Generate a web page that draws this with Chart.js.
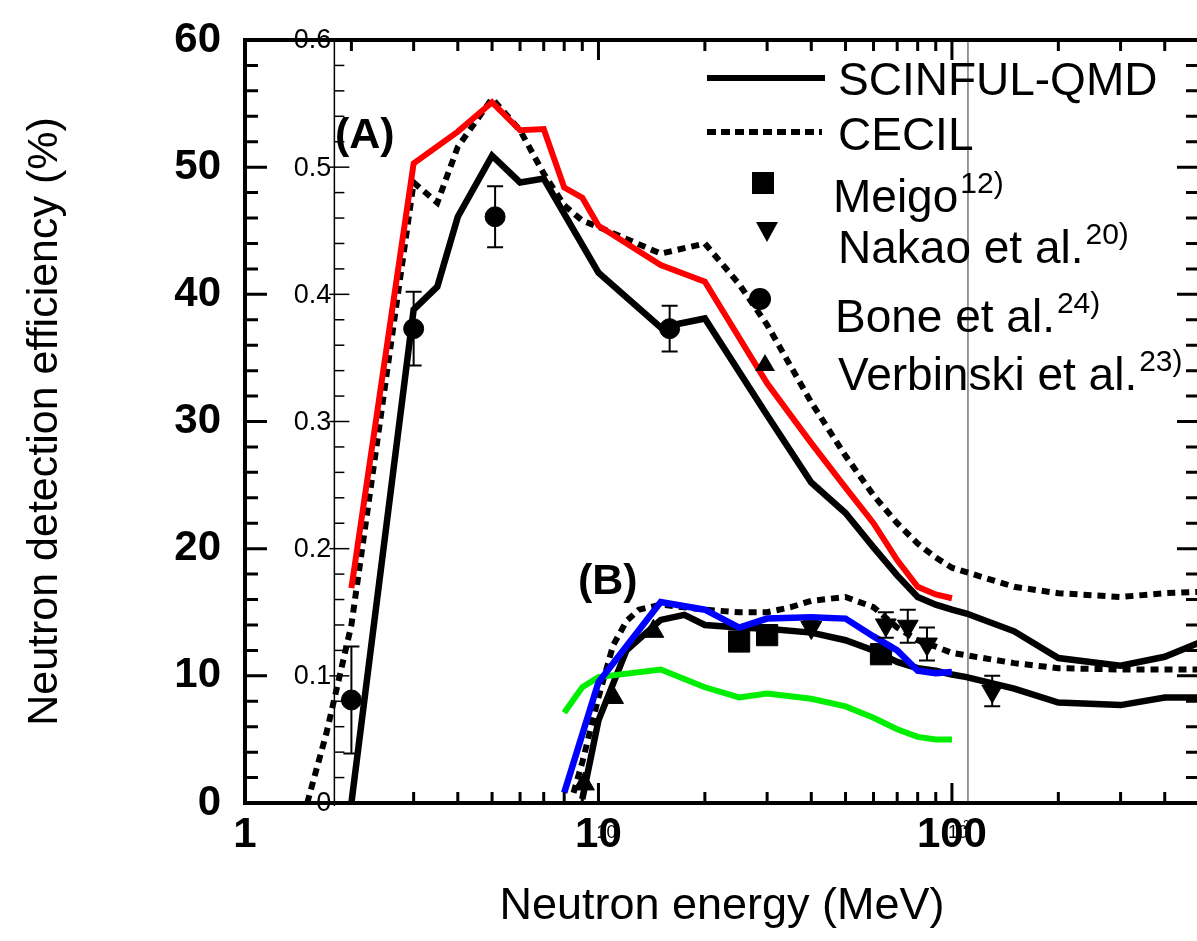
<!DOCTYPE html>
<html>
<head>
<meta charset="utf-8">
<script src="https://cdn.jsdelivr.net/npm/chart.js@4.4.1/dist/chart.umd.min.js"></script>
<style>
  html, body { margin: 0; padding: 0; background: #fff; overflow: hidden; }
  canvas { display: block; }
</style>
</head>
<body>
<canvas id="myChart" width="1215" height="941"></canvas>
<script>
const ctx = document.getElementById('myChart').getContext('2d');

// ---- data (energy in MeV, efficiency in %) ----
const scinfulA_E = [2, 3, 3.5, 4, 5, 6, 7, 10, 15, 20, 30, 40, 50, 60, 70, 80, 90, 100, 110, 150, 200, 300, 400, 500];
const scinfulA_V = [0, 38.8, 40.6, 46.1, 50.9, 48.8, 49.1, 41.7, 37.4, 38.1, 30.5, 25.2, 22.8, 20.1, 17.9, 16.2, 15.6, 15.2, 14.9, 13.5, 11.4, 10.8, 11.5, 12.6];

const cecilA_E = [1.5, 1.7, 2, 3, 3.5, 4, 5, 6, 7, 8, 9, 10, 15, 20, 25, 30, 40, 50, 60, 70, 80, 90, 100, 150, 200, 300, 400, 500];
const cecilA_V = [0, 5.5, 14, 48.8, 47.2, 51.6, 55.4, 52.9, 49.5, 47.0, 45.8, 45.3, 43.2, 44.0, 40.8, 37.6, 31.5, 27.3, 24.2, 22.0, 20.4, 19.3, 18.5, 17.0, 16.5, 16.2, 16.5, 16.6];

const scinfulB_E = [9, 10, 12, 15, 17.5, 20, 25, 30, 40, 50, 60, 70, 80, 90, 100, 110, 150, 200, 300, 400, 500];
const scinfulB_V = [0.3, 6.5, 12.0, 14.4, 14.8, 14.0, 13.8, 13.7, 13.4, 12.8, 12.0, 11.1, 10.6, 10.4, 10.1, 9.9, 9.0, 7.9, 7.7, 8.3, 8.3];

const cecilB_E = [8.5, 9, 10, 11, 12, 13, 15, 20, 25, 30, 35, 40, 50, 60, 70, 80, 90, 100, 150, 200, 300, 400, 500];
const cecilB_V = [0.8, 3.2, 8.3, 12.4, 14.3, 15.2, 15.6, 15.2, 15.0, 15.0, 15.4, 15.9, 16.2, 15.4, 13.8, 12.8, 12.3, 11.8, 11.0, 10.6, 10.5, 10.5, 10.5];

// overlaid second plot (efficiency as a fraction)
const redE = [2, 3, 4, 5, 6, 7, 8, 9, 10, 15, 20, 30, 40, 50, 60, 70, 80, 90, 100];
const redV = [0.169, 0.503, 0.528, 0.551, 0.529, 0.530, 0.484, 0.476, 0.454, 0.423, 0.410, 0.330, 0.283, 0.248, 0.220, 0.191, 0.170, 0.164, 0.161];
const blueE = [8, 10, 15, 20, 25, 30, 40, 50, 60, 70, 80, 90, 100];
const blueV = [0.008, 0.095, 0.158, 0.152, 0.138, 0.145, 0.146, 0.145, 0.131, 0.120, 0.104, 0.102, 0.103];
const greenE = [8, 9, 10, 15, 20, 25, 30, 40, 50, 60, 70, 80, 90, 100];
const greenV = [0.071, 0.091, 0.099, 0.105, 0.091, 0.083, 0.086, 0.082, 0.076, 0.067, 0.058, 0.052, 0.050, 0.050];

// experiments
const boneE = [2.0, 3.0, 5.1, 15.9];
const boneV = [8.1, 37.3, 46.1, 37.3];
const boneErr = [4.2, 2.9, 2.4, 1.8];
const verbE = [9.1, 11, 14.3];
const verbV = [1.5, 8.3, 13.5];
const meigoE = [25, 30, 63];
const meigoV = [12.7, 13.2, 11.7];
const nakaoE = [40, 65, 75, 85, 130];
const nakaoV = [13.8, 14.0, 13.9, 12.5, 8.8];
const nakaoErr = [0.5, 1.0, 1.3, 1.3, 1.2];

const xTicks = [1, 10, 100];
const overlayAxisAt = 1.79;   // MeV where the inset's y axis sits
const overlayEdgeAt = 111;    // MeV of the inset's right border

const zip = (xs, ys) => xs.map((x, i) => ({ x: x, y: ys[i] }));
const SANS = '"Liberation Sans", Arial, sans-serif';
const NARROW = '"Liberation Sans Narrow", "Liberation Sans", Arial, sans-serif';

const lineSet = (E, V, color, width, dash, axis) => ({
  data: zip(E, V),
  borderColor: color,
  borderWidth: width,
  borderDash: dash || [],
  pointRadius: 0,
  fill: false,
  tension: 0,
  yAxisID: axis || 'y'
});

const pointSet = (E, V, style, radius, rotation, errs) => ({
  data: zip(E, V),
  showLine: false,
  pointStyle: style,
  pointRadius: radius,
  pointRotation: rotation,
  pointBackgroundColor: 'black',
  pointBorderColor: 'black',
  pointBorderWidth: 1,
  errors: errs
});

// error bars
const errorBars = {
  id: 'errorBars',
  afterDatasetsDraw(chart) {
    const c = chart.ctx;
    const y = chart.scales.y;
    chart.data.datasets.forEach((ds, i) => {
      if (!ds.errors) return;
      chart.getDatasetMeta(i).data.forEach((pt, j) => {
        const v = ds.data[j].y, e = ds.errors[j];
        const y1 = y.getPixelForValue(v + e), y2 = y.getPixelForValue(v - e);
        c.save();
        c.strokeStyle = 'black';
        c.lineWidth = 2;
        c.beginPath();
        c.moveTo(pt.x, y1); c.lineTo(pt.x, y2);
        c.moveTo(pt.x - 8, y1); c.lineTo(pt.x + 8, y1);
        c.moveTo(pt.x - 8, y2); c.lineTo(pt.x + 8, y2);
        c.stroke();
        c.restore();
      });
    });
  }
};

// inset axis (0 - 0.6) and its border line
const inset = {
  id: 'inset',
  beforeDatasetsDraw(chart) {
    const c = chart.ctx;
    const { top, bottom } = chart.chartArea;
    const x = chart.scales.x, y2 = chart.scales.y2;
    const xo = x.getPixelForValue(overlayAxisAt);
    const xe = x.getPixelForValue(overlayEdgeAt);
    c.save();
    c.strokeStyle = '#777';
    c.lineWidth = 1.5;
    c.beginPath(); c.moveTo(xe, top); c.lineTo(xe, bottom); c.stroke();
    c.strokeStyle = 'black';
    c.lineWidth = 1.5;
    c.beginPath(); c.moveTo(xo, top); c.lineTo(xo, bottom + 3); c.stroke();
    for (let k = 0; k <= 30; k++) {
      const py = y2.getPixelForValue(k * 0.02);
      c.beginPath();
      if (k % 5 === 0) { c.moveTo(xo - 5, py); c.lineTo(xo + 15, py); }
      else { c.moveTo(xo, py); c.lineTo(xo + 10, py); }
      c.stroke();
    }
    c.fillStyle = 'black';
    c.font = '27px ' + NARROW;
    c.textAlign = 'right';
    c.textBaseline = 'middle';
    y2.ticks.forEach(t => {
      c.fillText(t.label, xo - 3, y2.getPixelForValue(t.value) + 1);
    });
    // inset x labels
    c.font = '18px ' + NARROW;
    c.textAlign = 'left';
    c.fillText('10', x.getPixelForValue(10) - 2, 833);
    const x100 = x.getPixelForValue(100) - 4;
    c.fillText('10', x100, 833);
    c.font = '12px ' + NARROW;
    c.fillText('2', x100 + 15, 826);
    c.restore();
  }
};

// main frame with inward ticks, labels (A)/(B) and the legend
const frame = {
  id: 'frame',
  afterDatasetsDraw(chart) {
    const c = chart.ctx;
    const { left, right, top, bottom } = chart.chartArea;
    const x = chart.scales.x, y = chart.scales.y;
    c.save();
    c.strokeStyle = 'black';
    c.lineWidth = 4;
    c.strokeRect(left, top, right - left, bottom - top);
    c.lineWidth = 3;
    c.beginPath();
    for (let v = 2; v < 60; v += 2) {
      const py = y.getPixelForValue(v);
      const len = v % 10 === 0 ? 22 : 13;
      c.moveTo(left, py); c.lineTo(left + len, py);
      c.moveTo(right, py); c.lineTo(right - len, py);
    }
    [1, 10, 100].forEach(d => {
      for (let m = 1; m <= 9; m++) {
        const e = m * d;
        if (e <= 1 || e >= 500) continue;
        const px = x.getPixelForValue(e);
        const len = m === 1 ? 20 : 11;
        c.moveTo(px, bottom); c.lineTo(px, bottom - len);
        c.moveTo(px, top); c.lineTo(px, top + len);
      }
    });
    c.stroke();

    c.fillStyle = 'black';
    c.textAlign = 'left';
    c.textBaseline = 'alphabetic';
    c.font = 'bold 43px ' + SANS;
    c.fillText('(A)', 335, 148);
    c.fillText('(B)', 578, 594);

    // legend
    c.lineWidth = 6;
    c.beginPath(); c.moveTo(707, 78); c.lineTo(825, 78); c.stroke();
    c.setLineDash([9, 5]);
    c.beginPath(); c.moveTo(707, 132); c.lineTo(822, 132); c.stroke();
    c.setLineDash([]);
    c.fillRect(752, 172, 22, 22);
    c.beginPath(); c.moveTo(756, 222); c.lineTo(778, 222); c.lineTo(767, 242); c.closePath(); c.fill();
    c.beginPath(); c.arc(760, 299, 11, 0, Math.PI * 2); c.fill();
    c.beginPath(); c.moveTo(755, 371); c.lineTo(775, 371); c.lineTo(765, 354); c.closePath(); c.fill();

    const rows = [
      ['SCINFUL-QMD', '', 838, 95],
      ['CECIL', '', 838, 150],
      ['Meigo', '12)', 833, 212],
      ['Nakao et al.', '20)', 838, 263],
      ['Bone et al.', '24)', 835, 332],
      ['Verbinski et al.', '23)', 838, 390]
    ];
    rows.forEach(r => {
      c.font = '46px ' + SANS;
      c.fillText(r[0], r[2], r[3]);
      if (r[1]) {
        const w = c.measureText(r[0]).width;
        c.font = '30px ' + SANS;
        c.fillText(r[1], r[2] + w + 2, r[3] - 19);
      }
    });
    c.restore();
  }
};

new Chart(ctx, {
  type: 'line',
  data: {
    datasets: [
      lineSet(redE, redV, '#ff0000', 6, null, 'y2'),
      lineSet(blueE, blueV, '#0000ff', 6.5, null, 'y2'),
      lineSet(greenE, greenV, '#00ee00', 6, null, 'y2'),
      pointSet(boneE, boneV, 'circle', 10, 0, boneErr),
      pointSet(verbE, verbV, 'triangle', 12, 0),
      pointSet(meigoE, meigoV, 'rect', 15, 0),
      pointSet(nakaoE, nakaoV, 'triangle', 12, 180, nakaoErr),
      lineSet(scinfulA_E, scinfulA_V, 'black', 6.5),
      lineSet(cecilA_E, cecilA_V, 'black', 6, [8, 6]),
      lineSet(scinfulB_E, scinfulB_V, 'black', 6.5),
      lineSet(cecilB_E, cecilB_V, 'black', 6, [8, 6])
    ]
  },
  options: {
    responsive: false,
    animation: false,
    layout: { padding: { top: 40, right: 9, left: 0, bottom: 0 } },
    plugins: { legend: { display: false }, tooltip: { enabled: false } },
    scales: {
      x: {
        type: 'logarithmic',
        min: 1,
        max: 500,
        afterBuildTicks: s => { s.ticks = xTicks.map(v => ({ value: v })); },
        ticks: {
          callback: v => String(v),
          autoSkip: false,
          maxRotation: 0,
          padding: 7,
          color: 'black',
          font: { family: SANS, size: 42, weight: 'bold' }
        },
        grid: { display: false, drawTicks: false },
        border: { display: false },
        title: {
          display: true,
          text: 'Neutron energy (MeV)',
          color: 'black',
          font: { family: SANS, size: 45 },
          padding: { top: 0, bottom: 7 }
        },
        afterFit: s => { s.height = 138; s.paddingLeft = 0; s.paddingRight = 0; }
      },
      y: {
        min: 0,
        max: 60,
        ticks: {
          stepSize: 10,
          padding: 24,
          color: 'black',
          font: { family: SANS, size: 42, weight: 'bold' }
        },
        grid: { display: false, drawTicks: false },
        border: { display: false },
        title: {
          display: true,
          text: 'Neutron detection efficiency (%)',
          color: 'black',
          font: { family: SANS, size: 43 },
          padding: { top: 19, bottom: 0 }
        },
        afterFit: s => { s.width = 245; s.paddingTop = 0; s.paddingBottom = 0; }
      },
      y2: {
        display: false,
        min: 0,
        max: 0.6,
        ticks: { stepSize: 0.1 }
      }
    }
  },
  plugins: [inset, errorBars, frame]
});
</script>
</body>
</html>
